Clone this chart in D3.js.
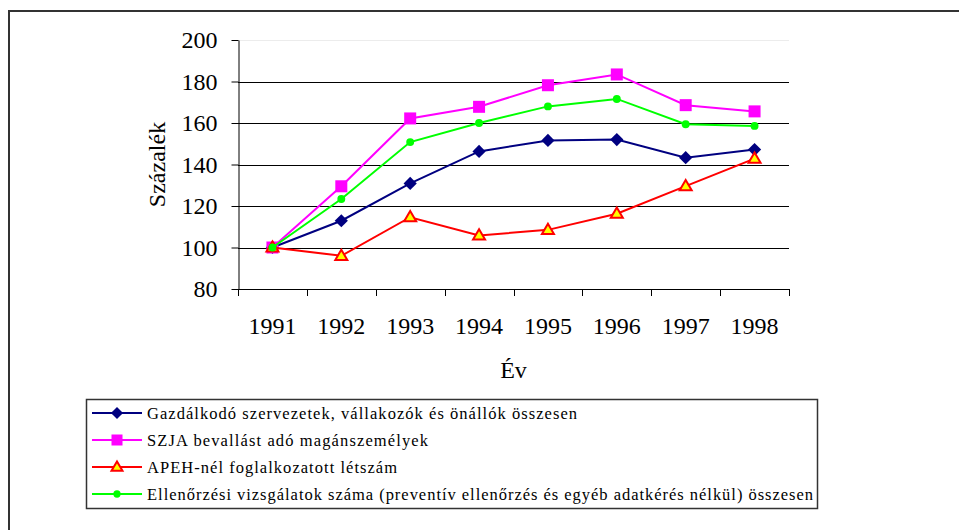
<!DOCTYPE html>
<html>
<head>
<meta charset="utf-8">
<script src="https://cdn.jsdelivr.net/npm/d3@7"></script>
<style>
  html, body { margin: 0; padding: 0; background: #fff; }
  svg { display: block; }
</style>
</head>
<body>
<svg id="chart" width="959" height="530"></svg>
<script>
// Évek
const years = ["1991", "1992", "1993", "1994", "1995", "1996", "1997", "1998"];

// Indexek (1991 = 100)
const gazdalkodo = [100, 112.9, 130.9, 146.3, 151.6, 152.0, 143.3, 147.2];
const szja = [100, 129.5, 162.2, 167.8, 178.2, 183.4, 168.6, 165.6];
const apeh = [100, 96.0, 114.6, 105.8, 108.5, 116.3, 129.6, 142.8];
const ellenorzes = [100, 123.4, 150.8, 160.0, 168.0, 171.6, 159.4, 158.6];

const yTicks = [80, 100, 120, 140, 160, 180, 200];

const seriesNames = [
  "Gazdálkodó szervezetek, vállakozók és önállók összesen",
  "SZJA bevallást adó magánszemélyek",
  "APEH-nél foglalkozatott létszám",
  "Ellenőrzési vizsgálatok száma (preventív ellenőrzés és egyéb adatkérés nélkül) összesen"
];

const FONT = '"Liberation Serif"';

const series = [
  { name: seriesNames[0], values: gazdalkodo, color: "#000080", marker: "diamond", textLen: 430 },
  { name: seriesNames[1], values: szja, color: "#FF00FF", marker: "square", textLen: 281 },
  { name: seriesNames[2], values: apeh, color: "#FF0000", marker: "triangle", textLen: 250 },
  { name: seriesNames[3], values: ellenorzes, color: "#00FF00", marker: "circle", textLen: 666 }
];

const svg = d3.select("#chart");

// Külső keret (bal és felső szél látszik)
svg.append("path")
  .attr("d", "M9,530 V11 H959")
  .attr("fill", "none")
  .attr("stroke", "#333")
  .attr("stroke-width", 2);

const plot = { left: 238, right: 789, top: 40, bottom: 289 };

const x = d3.scaleBand().domain(years).range([plot.left, plot.right]).paddingInner(0).paddingOuter(0);
const y = d3.scaleLinear().domain([80, 200]).range([plot.bottom, plot.top]);

// Rácsvonalak
svg.append("g")
  .selectAll("line")
  .data(yTicks.filter(d => d > 80))
  .join("line")
  .attr("x1", plot.left)
  .attr("x2", plot.right)
  .attr("y1", d => Math.round(y(d)) + 0.5)
  .attr("y2", d => Math.round(y(d)) + 0.5)
  .attr("stroke", d => d === 200 ? "#ececec" : "#000")
  .attr("stroke-width", 1);

// Y tengely
const yAxis = svg.append("g")
  .attr("transform", `translate(${plot.left + 0.5},0)`)
  .call(d3.axisLeft(y).tickValues(yTicks).tickSize(7).tickPadding(14).tickSizeOuter(0))
  .attr("font-family", null)
  .attr("font-size", null);
yAxis.select(".domain").attr("stroke", "#000");
yAxis.selectAll(".tick line").attr("stroke", "#000");
yAxis.selectAll(".tick text")
  .style("font-family", FONT)
  .style("font-size", "24px")
  .attr("fill", "#000");

// X tengely: vonal és osztásjelek a kategóriák határán
const xg = svg.append("g");
xg.append("line")
  .attr("x1", plot.left).attr("x2", plot.right + 1)
  .attr("y1", plot.bottom + 0.5).attr("y2", plot.bottom + 0.5)
  .attr("stroke", "#000");
const bounds = years.map(d => x(d)).concat([x(years[years.length - 1]) + x.bandwidth()]);
xg.selectAll("line.tk")
  .data(bounds)
  .join("line")
  .attr("class", "tk")
  .attr("x1", d => Math.round(d) + 0.5).attr("x2", d => Math.round(d) + 0.5)
  .attr("y1", plot.bottom).attr("y2", plot.bottom + 7)
  .attr("stroke", "#000");

const xAxis = svg.append("g")
  .attr("transform", `translate(0,${plot.bottom})`)
  .call(d3.axisBottom(x).tickSize(0).tickPadding(28))
  .attr("font-family", null)
  .attr("font-size", null);
xAxis.select(".domain").remove();
xAxis.selectAll(".tick text")
  .style("font-family", FONT)
  .style("font-size", "24px")
  .attr("fill", "#000");

// Tengelycímek
svg.append("text")
  .attr("transform", `translate(165,${(plot.top + plot.bottom) / 2}) rotate(-90)`)
  .attr("text-anchor", "middle")
  .style("font-family", FONT)
  .style("font-size", "24px")
  .text("Százalék");

svg.append("text")
  .attr("x", (plot.left + plot.right) / 2)
  .attr("y", 378)
  .attr("text-anchor", "middle")
  .style("font-family", FONT)
  .style("font-size", "24px")
  .text("Év");

// Jelölők
function drawMarker(g, type, color, cx, cy, s) {
  if (type === "diamond") {
    const r = s * 0.55;
    g.append("path")
      .attr("d", `M${cx},${cy - r} L${cx + r},${cy} L${cx},${cy + r} L${cx - r},${cy} Z`)
      .attr("fill", color);
  } else if (type === "square") {
    g.append("rect")
      .attr("x", cx - s / 2).attr("y", cy - s / 2)
      .attr("width", s).attr("height", s)
      .attr("fill", color);
  } else if (type === "triangle") {
    const h = s * 0.85, w = s * 0.5;
    g.append("path")
      .attr("d", `M${cx},${cy - h * 0.6} L${cx + w},${cy + h * 0.4} L${cx - w},${cy + h * 0.4} Z`)
      .attr("fill", "#FFFF00")
      .attr("stroke", color)
      .attr("stroke-width", 2)
      .attr("stroke-linejoin", "miter");
  } else {
    g.append("circle")
      .attr("cx", cx).attr("cy", cy).attr("r", s * 0.33)
      .attr("fill", color);
  }
}

const line = d3.line()
  .x((d, i) => x(years[i]) + x.bandwidth() / 2)
  .y(d => y(d));

series.forEach(s => {
  const g = svg.append("g");
  g.append("path")
    .datum(s.values)
    .attr("d", line)
    .attr("fill", "none")
    .attr("stroke", s.color)
    .attr("stroke-width", 2);
  s.values.forEach((v, i) => {
    drawMarker(g, s.marker, s.color, x(years[i]) + x.bandwidth() / 2, y(v), 12);
  });
});

// Jelmagyarázat
svg.append("rect")
  .attr("x", 86.5).attr("y", 399.5)
  .attr("width", 731).attr("height", 109)
  .attr("fill", "#fff")
  .attr("stroke", "#333")
  .attr("stroke-width", 1.5);

series.forEach((s, i) => {
  const cy = 413 + i * 27;
  const g = svg.append("g");
  g.append("line")
    .attr("x1", 92).attr("x2", 142)
    .attr("y1", cy).attr("y2", cy)
    .attr("stroke", s.color).attr("stroke-width", 2);
  drawMarker(g, s.marker, s.color, 117, cy, 11);
  g.append("text")
    .attr("x", 147)
    .attr("y", cy + 5.5)
    .style("font-family", FONT)
    .style("font-size", "16.5px")
    .attr("textLength", s.textLen)
    .attr("lengthAdjust", "spacing")
    .text(s.name);
});
</script>
</body>
</html>
